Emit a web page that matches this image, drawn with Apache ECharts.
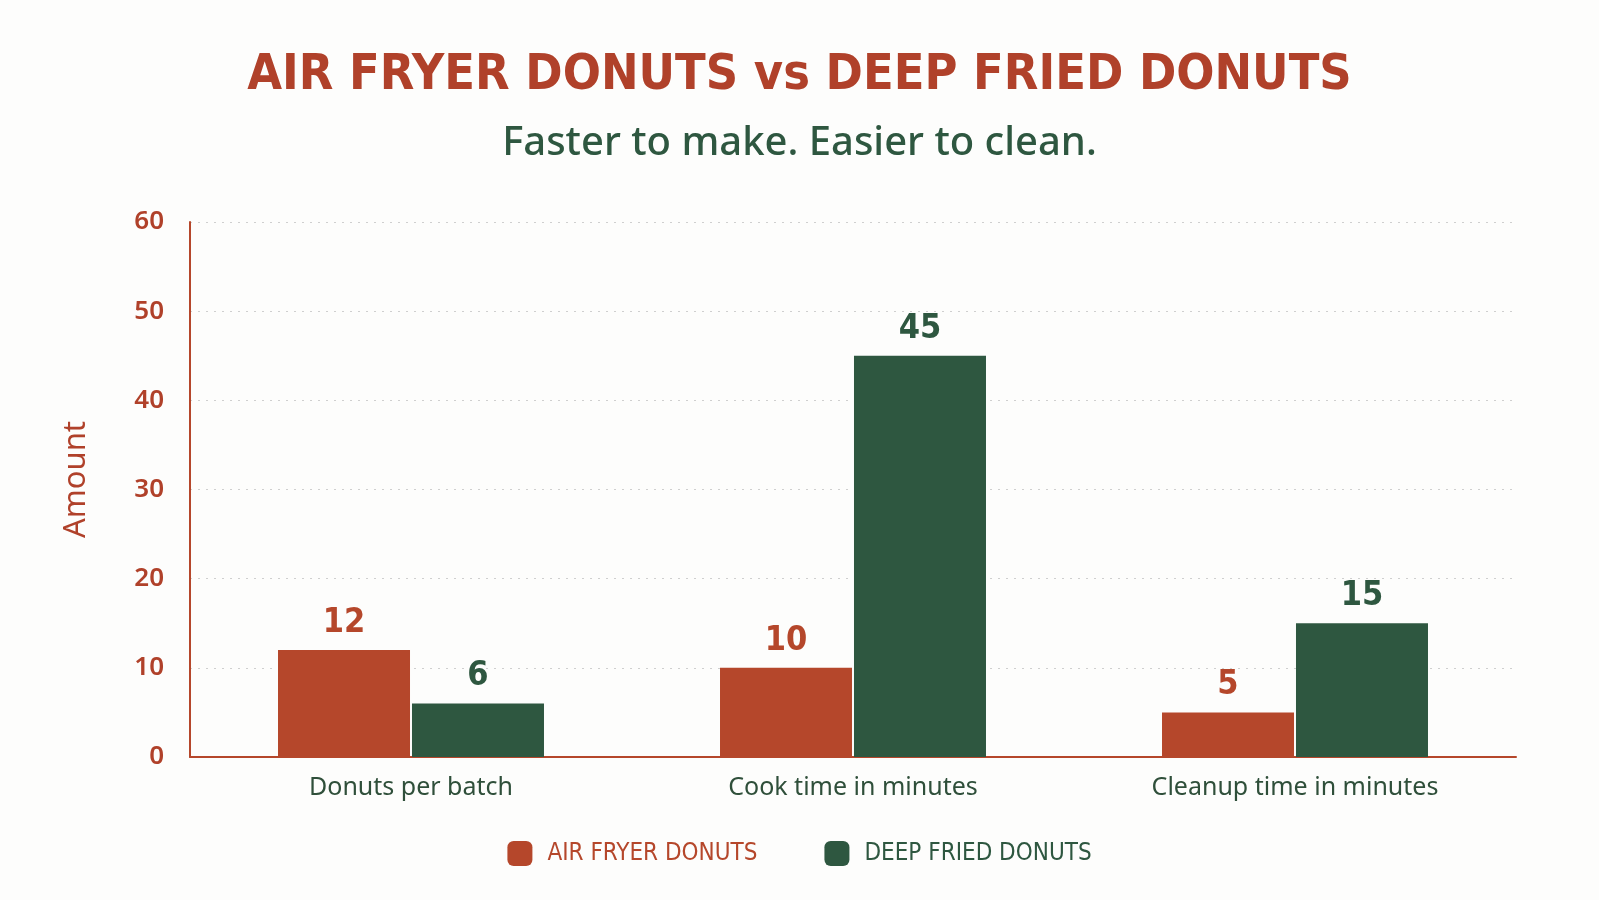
<!DOCTYPE html>
<html>
<head>
<meta charset="utf-8">
<script src="https://cdn.jsdelivr.net/npm/echarts@6/dist/echarts.min.js"></script>
<style>
  html, body { margin: 0; padding: 0; background: #fdfdfc; }
  #main { width: 1599px; height: 900px; }
</style>
</head>
<body>
<div id="main"></div>
<script>
// 資料
let categories = ["Donuts per batch", "Cook time in minutes", "Cleanup time in minutes"];
let airFryer = [12, 10, 5];
let deepFried = [6, 45, 15];
let yTicks = [0, 10, 20, 30, 40, 50, 60];

let orange = "#b5472b";
let green = "#2e5740";
let titleRed = "#b0412a";
let narrow = "'DejaVu Sans Condensed', 'Liberation Sans Narrow', 'Arial Narrow', sans-serif";

let chart = echarts.init(document.getElementById("main"));

function barSeries(name, data, color) {
    return {
        name: name,
        type: "bar",
        data: data,
        barWidth: 132,
        barGap: "1.5%",
        itemStyle: { color: color },
        label: {
            show: true,
            position: "top",
            distance: 10,
            color: color,
            fontFamily: narrow,
            fontWeight: "bold",
            fontSize: 34
        }
    };
}

let option = {
    backgroundColor: "#fdfdfc",
    title: [
        {
            text: "AIR FRYER DONUTS vs DEEP FRIED DONUTS",
            left: "center",
            top: 46,
            textStyle: {
                color: titleRed,
                fontFamily: narrow,
                fontWeight: "bold",
                fontSize: 50
            }
        },
        {
            text: "Faster to make. Easier to clean.",
            left: "center",
            top: 119,
            textStyle: {
                color: green,
                fontFamily: "Noto Sans",
                fontWeight: 500,
                fontSize: 40
            }
        }
    ],
    legend: {
        bottom: 29,
        left: "center",
        itemWidth: 25,
        itemHeight: 25,
        itemGap: 67,
        icon: "roundRect",
        textStyle: {
            fontFamily: narrow,
            fontSize: 24,
            padding: [0, 0, 0, 10]
        },
        data: [
            { name: "AIR FRYER DONUTS", textStyle: { color: orange } },
            { name: "DEEP FRIED DONUTS", textStyle: { color: green } }
        ]
    },
    grid: { left: 190, right: 83, top: 222, bottom: 143, containLabel: false },
    xAxis: {
        type: "category",
        data: categories,
        axisLine: { lineStyle: { color: orange, width: 2 } },
        axisTick: { show: false },
        axisLabel: {
            color: "#2f4f3a",
            fontFamily: "Noto Sans",
            fontSize: 25,
            margin: 18
        }
    },
    yAxis: {
        type: "value",
        min: yTicks[0],
        max: yTicks[yTicks.length - 1],
        interval: 10,
        name: "Amount",
        nameLocation: "middle",
        nameGap: 98,
        nameTextStyle: {
            color: titleRed,
            fontFamily: "Noto Sans",
            fontSize: 31,
            padding: [0, 0, 0, 20]
        },
        axisLine: { show: true, lineStyle: { color: orange, width: 2 } },
        axisTick: { show: false },
        axisLabel: {
            color: titleRed,
            fontFamily: "Noto Sans",
            fontWeight: 600,
            fontSize: 26,
            margin: 26
        },
        splitLine: {
            lineStyle: { color: "#cfcfcf", type: [2, 6], width: 1 }
        }
    },
    series: [
        barSeries("AIR FRYER DONUTS", airFryer, orange),
        barSeries("DEEP FRIED DONUTS", deepFried, green)
    ]
};

chart.setOption(option);
</script>
</body>
</html>
